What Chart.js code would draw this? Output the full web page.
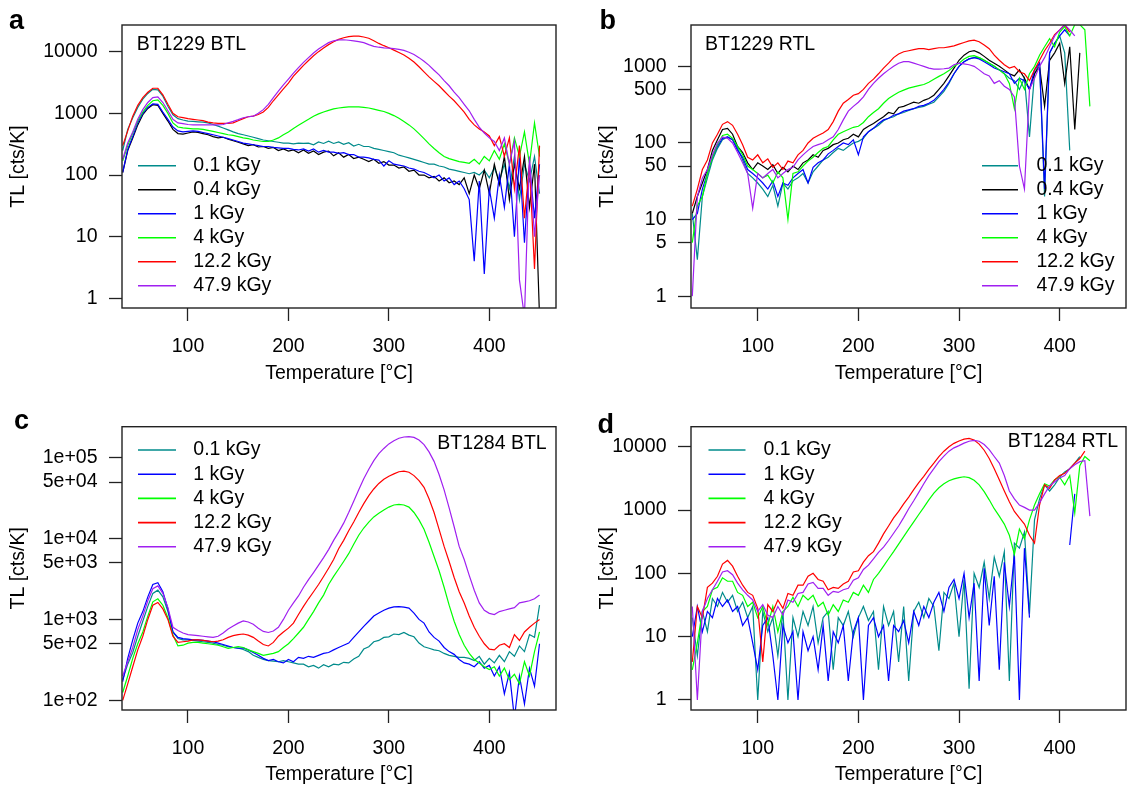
<!DOCTYPE html>
<html>
<head>
<meta charset="utf-8">
<title>TL glow curves</title>
<script src="https://cdn.jsdelivr.net/npm/chart.js@4.4.1/dist/chart.umd.min.js"></script>
<style>
  body { margin: 0; background: #fff; }
  #fig { position: relative; width: 1129px; height: 791px; overflow: hidden; }
  #fig canvas { position: absolute; }
</style>
</head>
<body>
<div id="fig">
  <canvas id="panelA" width="564" height="395" style="left:0;top:0"></canvas>
  <canvas id="panelB" width="565" height="395" style="left:564px;top:0"></canvas>
  <canvas id="panelC" width="564" height="396" style="left:0;top:395px"></canvas>
  <canvas id="panelD" width="565" height="396" style="left:564px;top:395px"></canvas>
</div>
<script>
// temperature grids [°C]
const tempsA = [35,40,45,50,55,60,65,70,75,80,85,90, 95,100,105,110,115,120,125,130,135,140,145,150,
  155,160,165,170,175,180,185,190,195,200,205,210, 215,220,225,230,235,240,245,250,255,260,265,270,
  275,280,285,290,295,300,305,310,315,320,325,330, 335,340,345,350,355,360,365,370,375,380,385,390,
  395,400,405,410,415,420,425,430,435,440,445,450];
const tempsB = [35,40,45,50,55,60,65,70,75,80,85,90, 95,100,105,110,115,120,125,130,135,140,145,150,
  155,160,165,170,175,180,185,190,195,200,205,210, 215,220,225,230,235,240,245,250,255,260,265,270,
  275,280,285,290,295,300,305,310,315,320,325,330, 335,340,345,350,355,360,365,370,375,380,385,390,
  395,400,405,410,415,420,425,430];

const doseLabels = ['0.1 kGy', '0.4 kGy', '1 kGy', '4 kGy', '12.2 kGy', '47.9 kGy'];
const doseColors = ['#008B8B', '#000000', '#0000FF', '#00FF00', '#FF0000', '#A020F0'];

// a: BT1229 BTL
const a01 = [250,550,850,1250,1700,2100,2450,2400,1900,1300,950,820,
  780,750,740,730,720,700,660,620,580,540,500,470,
  450,430,410,390,370,360,350,340,330,330,320,330,
  325,330,310,345,325,355,325,345,315,335,295,315,
  290,290,270,260,250,240,230,210,200,190,180,170,
  160,150,150,140,135,125,120,115,110,105,110,100,
  120,90,130,80,150,60,200,40,150,80,200,50];
const a04 = [110,250,400,650,950,1200,1380,1350,1000,750,550,470,
  460,480,500,490,470,450,420,400,410,380,360,340,
  320,300,310,285,290,270,280,250,265,245,255,230,
  255,225,245,215,235,245,205,230,195,215,185,195,
  180,165,180,155,165,145,145,130,135,115,120,100,
  100,90,95,80,90,75,80,70,90,50,100,60,
  120,50,150,70,200,40,150,60,200,30,150,0.5];
const a1 = [110,260,420,700,1000,1250,1420,1400,1050,800,600,520,
  500,510,520,510,490,470,450,430,410,390,370,350,
  330,320,310,300,290,290,280,275,270,270,260,255,
  265,245,265,235,250,235,235,225,230,215,215,195,
  195,190,180,175,140,170,150,145,140,130,125,115,
  110,100,90,100,80,90,70,80,60,40,4,80,
  2.5,60,20,100,30,150,10,200,8,150,20,150];
const a4 = [170,300,480,750,1050,1350,1600,1650,1350,1000,700,600,
  580,570,560,560,550,530,510,490,470,450,440,420,
  400,390,370,360,350,350,370,400,450,500,570,640,
  720,800,900,980,1050,1120,1180,1220,1250,1270,1280,1270,
  1250,1220,1170,1120,1070,1000,920,830,740,650,560,470,
  390,320,270,230,200,185,175,165,160,155,180,150,
  200,170,250,180,320,150,400,200,500,150,700,200];
const a122 = [300,520,900,1350,1800,2200,2550,2550,2000,1400,1000,880,
  850,820,800,780,760,720,700,690,690,690,700,760,
  820,880,900,960,1050,1250,1600,2000,2500,3100,4000,4900,
  6000,7200,8600,10000,11500,13000,14500,15800,16800,17500,17900,17800,
  17300,16500,15000,13600,12500,11600,10600,9700,8800,7800,6800,5700,
  4700,3900,3300,2800,2300,1900,1600,1300,1050,800,650,560,
  500,430,300,420,200,400,60,300,20,150,3,300];
const a479 = [180,330,500,800,1150,1500,1800,1850,1500,1100,800,700,
  680,660,650,650,650,650,650,650,660,700,740,790,
  850,880,900,1000,1150,1400,1800,2300,2900,3600,4500,5500,
  6700,8000,9500,11000,12500,14000,15000,15500,15600,15300,15000,14500,
  14000,13000,12200,11800,11500,11400,11200,10900,10500,9800,9000,8000,
  7000,6000,5000,4200,3400,2800,2200,1800,1400,1100,800,600,
  480,400,350,250,400,150,350,2,0.5,200,10,100];

// b: BT1229 RTL
const b01 = [12,3,20,35,60,85,110,120,110,85,60,40,
  35,30,25,20,28,15,30,25,32,35,40,30,
  42,50,60,65,75,85,80,90,100,105,115,140,
  155,170,195,210,220,240,250,265,280,290,300,320,
  340,400,470,600,800,1000,1150,1250,1300,1300,1200,1100,
  1000,900,800,700,650,500,700,120,800,1100,20,1500,
  2000,2500,1500,80,null,null,null,null];
const b04 = [12,20,30,45,80,110,150,155,130,90,75,55,
  45,55,50,45,52,40,48,42,50,45,55,60,
  70,65,80,85,95,100,110,115,130,120,150,165,
  180,200,220,250,240,290,300,320,340,330,360,380,
  420,500,600,750,950,1200,1400,1550,1600,1500,1350,1200,
  1100,1000,900,800,750,900,700,500,800,1000,300,1200,
  1500,2000,600,1800,150,1500,null,null];
const b1 = [10,12,25,40,65,90,115,120,110,80,65,45,
  40,35,30,25,32,20,30,28,35,40,45,30,
  48,55,60,72,80,90,100,95,110,70,120,140,
  155,180,200,210,230,240,260,270,280,300,310,330,
  360,420,500,620,800,1000,1150,1250,1300,1250,1150,1050,
  950,900,850,800,600,700,650,500,900,1100,25,1500,
  2000,2500,3000,2500,null,null,null,null];
const b4 = [5,15,20,40,65,95,125,130,115,90,70,50,
  45,40,35,38,30,42,35,10,40,42,50,58,
  65,75,85,90,110,130,140,150,160,165,185,220,
  250,280,330,380,420,460,490,520,540,560,580,620,
  680,740,800,880,1000,1100,1250,1350,1380,1300,1200,1100,
  1000,900,800,600,280,700,500,800,1000,1400,1800,2300,
  1800,2800,3300,2500,3500,3500,3000,300];
const b122 = [15,25,45,60,100,130,175,190,170,130,95,65,
  60,70,55,62,48,55,45,58,55,70,80,100,
  115,125,135,150,190,260,330,370,420,440,500,600,
  680,800,950,1100,1300,1450,1550,1600,1650,1700,1700,1650,
  1700,1750,1750,1800,1850,1950,2050,2150,2200,2100,1900,1700,
  1400,1200,1050,950,1000,850,800,650,900,1200,1600,2000,
  2600,3000,3500,2800,null,null,null,null];
const b479 = [1,20,35,45,70,100,120,115,100,75,55,40,
  14,40,35,40,45,35,40,45,48,60,70,80,
  90,95,100,110,120,150,200,260,300,340,400,500,
  600,700,800,900,1000,1100,1150,1150,1100,1050,1000,950,
  920,920,930,950,1050,1100,1080,1050,1000,900,800,750,
  600,650,550,500,400,50,25,500,700,1000,1300,1800,
  2500,3000,3500,3000,2500,null,null,null];

// c: BT1284 BTL
const c01 = [180,280,390,620,950,1450,2100,2300,1900,1250,700,580,
  560,560,550,540,530,520,510,490,480,460,450,440,
  425,400,360,340,320,310,305,300,310,300,290,280,
  280,260,270,250,275,260,280,275,295,290,325,350,
  430,460,530,550,600,610,660,650,690,640,610,510,
  460,440,420,410,380,360,350,340,340,330,310,350,
  280,330,290,360,300,400,350,470,400,650,600,1500];
const c1 = [170,330,560,900,1250,1900,2700,2850,2200,1350,700,600,
  580,570,560,560,550,540,530,510,490,470,450,440,
  445,420,390,360,330,310,320,300,290,320,300,340,
  330,350,340,360,380,390,420,450,480,510,600,700,
  820,950,1100,1200,1300,1380,1430,1440,1420,1380,1200,1000,
  900,700,600,540,450,400,370,320,290,280,260,300,
  250,270,200,260,120,220,60,200,90,250,150,500];
const c4 = [125,200,330,500,700,1100,1650,1800,1500,1050,640,470,
  480,510,520,520,510,500,490,480,460,440,450,460,
  450,420,400,380,360,370,380,400,450,500,580,680,
  800,1000,1250,1600,2000,2700,3400,4200,5200,6500,8500,11000,
  13500,16000,18500,20500,22500,24500,26000,26500,26000,24500,21000,17000,
  13000,9000,6000,4000,2500,1500,950,650,480,380,320,290,
  260,240,260,200,250,180,210,160,300,200,400,700];
const c122 = [100,160,260,420,620,1000,1500,1620,1350,1000,620,520,
  530,540,560,560,550,540,530,540,560,600,630,650,
  660,640,600,540,490,470,520,620,700,780,900,1150,
  1450,1800,2200,2700,3400,4300,5500,7500,9500,12500,16000,21000,
  27000,34000,41000,48000,54000,59000,63000,67000,68000,66000,60000,52000,
  43000,31000,21000,13000,8000,5200,3300,2200,1600,1100,800,620,
  500,430,420,480,500,450,650,550,700,800,900,1000];
const c479 = [200,300,450,750,1100,1700,2400,2600,2100,1400,800,730,
  680,650,640,630,620,610,600,620,680,760,830,900,
  960,930,870,780,710,690,720,800,1000,1300,1600,1950,
  2500,3100,3800,4700,5800,7300,9500,12000,15500,21000,29000,40000,
  55000,72000,92000,112000,130000,148000,162000,174000,180000,182000,178000,165000,
  145000,118000,90000,62000,40000,24000,14000,8000,5500,3500,2300,1600,
  1300,1190,1150,1250,1300,1350,1400,1600,1650,1700,1800,2000];

// d: BT1284 RTL
const d01 = [20,5,25,12,40,30,50,35,45,25,35,20,
  30,1,25,12,20,5,25,1,20,10,25,15,
  30,8,20,25,3,20,15,25,10,20,30,18,
  25,3,30,15,25,4,30,2,25,35,20,40,
  30,6,50,40,70,10,80,1.5,100,60,150,40,
  180,90,220,2,300,250,450,23,700,1500,2500,2000,
  2500,3300,4000,4500,5500,7000,null,null];
const d1 = [10,30,12,25,20,40,30,38,25,30,15,20,
  8,3,15,20,5,1,15,8,12,1,12,6,
  10,3,15,2,12,8,15,2,12,20,1,15,
  20,10,15,2,15,12,18,8,25,15,30,20,
  35,50,25,60,80,40,100,20,70,2,120,15,
  90,3,150,30,200,1,250,20,null,null,null,null,
  null,null,null,280,1800,null,null,null];
const d4 = [3,8,25,30,55,60,85,75,75,50,45,30,
  35,20,30,15,30,12,25,30,42,30,45,38,
  45,30,35,22,32,25,38,35,50,45,65,50,
  80,100,130,170,220,290,380,500,650,850,1100,1450,
  1850,2250,2600,2900,3100,3250,3350,3250,2950,2500,1950,1450,
  1050,800,600,400,200,500,350,700,1200,1800,2600,2400,
  3000,3300,2500,3500,900,5000,7000,6000];
const d122 = [4,30,20,60,70,90,140,160,130,90,65,50,
  45,28,4,32,25,38,28,48,45,65,65,90,
  100,80,75,55,60,58,68,75,105,110,150,190,
  220,300,420,560,750,950,1250,1600,2100,2700,3400,4400,
  5500,7000,8500,10000,11300,12300,13200,13500,12800,11000,8800,6500,
  4500,3000,2000,1350,950,750,600,400,300,1200,2500,2200,
  3000,3500,3800,4500,5500,6500,8500,null];
const d479 = [30,1,25,40,55,75,105,110,95,70,55,45,
  38,25,32,22,20,30,22,38,35,48,50,68,
  72,58,58,45,52,50,55,58,78,85,115,135,
  170,215,260,330,430,560,760,1050,1400,1900,2600,3500,
  4500,5800,7100,8500,9600,10400,11400,12200,12600,12200,10800,9000,
  7000,5500,3500,2000,1500,1200,1100,1000,1000,1300,1800,2400,
  2800,3200,3500,4500,5200,5800,6000,800];

const xTicks = [100, 200, 300, 400];
const yTicksA = [1, 10, 100, 1000, 10000];
const yTicksB = [1, 5, 10, 50, 100, 500, 1000];
const yTicksC = [100, 500, 1000, 5000, 10000, 50000, 100000];
const yLabelsC = ['1e+02', '5e+02', '1e+03', '5e+03', '1e+04', '5e+04', '1e+05'];
const yTicksD = [1, 10, 100, 1000, 10000];

const FAMILY = '"Liberation Sans", Arial, sans-serif';
const FSIZE = 19.5;
Chart.defaults.font.family = FAMILY;
Chart.defaults.font.size = FSIZE;
Chart.defaults.color = '#000';

function decoPlugin(d) {
  return {
    id: 'deco',
    afterDatasetsDraw(chart) {
      const ctx = chart.ctx, a = chart.chartArea;
      ctx.save();
      ctx.font = FSIZE + 'px ' + FAMILY;
      ctx.textBaseline = 'middle';
      ctx.textAlign = 'left';
      chart.data.datasets.forEach((ds, i) => {
        const y = d.legend.y + i * d.legend.dy;
        ctx.strokeStyle = ds.borderColor;
        ctx.lineWidth = 1.6;
        ctx.beginPath();
        ctx.moveTo(d.legend.x0, y);
        ctx.lineTo(d.legend.x1, y);
        ctx.stroke();
        ctx.fillStyle = '#000';
        ctx.fillText(ds.label, d.legend.tx, y);
      });
      ctx.textAlign = d.title.align;
      ctx.fillText(d.title.text, d.title.x, d.title.y);
      // plot box
      ctx.strokeStyle = '#222';
      ctx.lineWidth = 1.4;
      ctx.strokeRect(a.left, a.top, a.right - a.left, a.bottom - a.top);
      // panel letter
      ctx.font = 'bold 27px ' + FAMILY;
      ctx.textAlign = 'left';
      ctx.textBaseline = 'alphabetic';
      ctx.fillText(d.letter.text, d.letter.x, d.letter.y);
      ctx.restore();
    }
  };
}

function makePanel(p) {
  const n = p.series.length;
  const datasets = p.series.map((s, i) => ({
    label: s.label,
    data: p.temps.map((t, k) => ({x: t, y: s.values[k]})),
    borderColor: s.color,
    borderWidth: 1.2,
    pointRadius: 0,
    tension: 0,
    fill: false,
    spanGaps: false,
    order: n - i
  }));
  return new Chart(document.getElementById(p.id), {
    type: 'line',
    data: {datasets: datasets},
    options: {
      responsive: false,
      animation: false,
      events: [],
      layout: {padding: p.pad},
      plugins: {legend: {display: false}, tooltip: {enabled: false}},
      scales: {
        x: {
          type: 'linear',
          min: p.xRange[0],
          max: p.xRange[1],
          afterBuildTicks: sc => { sc.ticks = xTicks.map(v => ({value: v})); },
          afterFit: sc => { sc.height = p.xAxisH; },
          grid: {drawOnChartArea: false, tickLength: 13, tickColor: '#222', tickWidth: 1.3},
          border: {display: false},
          ticks: {padding: 13.7, autoSkip: false, maxRotation: 0, callback: v => String(v)},
          title: {display: true, text: 'Temperature [°C]', padding: {top: 0, bottom: p.xTitlePad}}
        },
        y: {
          type: 'logarithmic',
          min: p.yRange[0],
          max: p.yRange[1],
          afterBuildTicks: sc => { sc.ticks = p.yTicks.map(v => ({value: v})); },
          afterFit: sc => { sc.width = p.yAxisW; },
          grid: {drawOnChartArea: false, tickLength: 13, tickColor: '#222', tickWidth: 1.3},
          border: {display: false},
          ticks: {padding: 11.5, autoSkip: false, callback: (v, i) => p.yLabels[i]},
          title: {display: true, text: 'TL [cts/K]', padding: {top: p.yTitlePad, bottom: 0}}
        }
      }
    },
    plugins: [decoPlugin(p.deco)]
  });
}

function seriesFor(idx, arrays) {
  return idx.map((d, i) => ({label: doseLabels[d], color: doseColors[d], values: arrays[i]}));
}

makePanel({
  id: 'panelA', temps: tempsA,
  series: seriesFor([0, 1, 2, 3, 4, 5], [a01, a04, a1, a4, a122, a479]),
  xRange: [34.3, 466.4], yRange: [0.70, 27040],
  yTicks: yTicksA, yLabels: yTicksA.map(String),
  pad: {left: 0, top: 25, right: 8, bottom: 0}, yAxisW: 122, xAxisH: 87,
  yTitlePad: 7, xTitlePad: 10,
  deco: {legend: {x0: 138, x1: 176, tx: 193.3, y: 165.7, dy: 24},
         title: {text: 'BT1229 BTL', x: 136.7, y: 45, align: 'left'},
         letter: {text: 'a', x: 9, y: 29}}
});

makePanel({
  id: 'panelB', temps: tempsB,
  series: seriesFor([0, 1, 2, 3, 4, 5], [b01, b04, b1, b4, b122, b479]),
  xRange: [33.7, 465.9], yRange: [0.74, 3467],
  yTicks: yTicksB, yLabels: yTicksB.map(String),
  pad: {left: 0, top: 25, right: 3, bottom: 0}, yAxisW: 127, xAxisH: 87,
  yTitlePad: 32, xTitlePad: 10,
  deco: {legend: {x0: 418, x1: 454, tx: 472.4, y: 165.7, dy: 24},
         title: {text: 'BT1229 RTL', x: 141, y: 45, align: 'left'},
         letter: {text: 'b', x: 35.5, y: 29.3}}
});

makePanel({
  id: 'panelC', temps: tempsA,
  series: seriesFor([0, 2, 3, 4, 5], [c01, c1, c4, c122, c479]),
  xRange: [34.3, 466.4], yRange: [75.9, 241500],
  yTicks: yTicksC, yLabels: yLabelsC,
  pad: {left: 0, top: 31.7, right: 8, bottom: 0}, yAxisW: 122, xAxisH: 81,
  yTitlePad: 7, xTitlePad: 4.4,
  deco: {legend: {x0: 138, x1: 176, tx: 193.3, y: 55, dy: 24.2},
         title: {text: 'BT1284 BTL', x: 546.7, y: 48.3, align: 'right'},
         letter: {text: 'c', x: 14, y: 34.3}}
});

makePanel({
  id: 'panelD', temps: tempsB,
  series: seriesFor([0, 2, 3, 4, 5], [d01, d1, d4, d122, d479]),
  xRange: [33.7, 465.9], yRange: [0.695, 20700],
  yTicks: yTicksD, yLabels: yTicksD.map(String),
  pad: {left: 0, top: 31.7, right: 3, bottom: 0}, yAxisW: 127, xAxisH: 81,
  yTitlePad: 32, xTitlePad: 4.4,
  deco: {legend: {x0: 144.5, x1: 181.5, tx: 199.6, y: 55, dy: 24.2},
         title: {text: 'BT1284 RTL', x: 554, y: 46.7, align: 'right'},
         letter: {text: 'd', x: 33.5, y: 37.7}}
});
</script>
</body>
</html>
